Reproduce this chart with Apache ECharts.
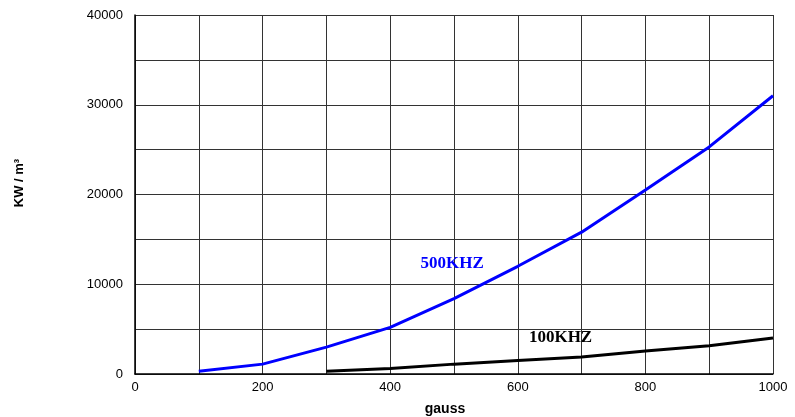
<!DOCTYPE html>
<html>
<head>
<meta charset="utf-8">
<script src="https://cdn.jsdelivr.net/npm/echarts@6/dist/echarts.min.js"></script>
<style>html,body{margin:0;padding:0;background:#fff;}#c{width:795px;height:417px;}</style>
</head>
<body>
<div id="c"></div>
<script>
var gauss500 = [100, 200, 300, 400, 500, 600, 700, 800, 900, 1000];
var kw500 = [300, 1100, 3000, 5200, 8400, 12000, 15800, 20500, 25300, 31000];
var gauss100 = [300, 400, 500, 600, 700, 800, 900, 1000];
var kw100 = [300, 600, 1100, 1500, 1900, 2550, 3150, 4000];
var seriesNames = ['500KHZ', '100KHZ'];
var labelPos500 = [497, 12300];
var labelPos100 = [667, 4000];

function zip(xs, ys) { return xs.map(function (x, i) { return [x, ys[i]]; }); }

var chart = echarts.init(document.getElementById('c'));
chart.setOption({
  animation: false,
  backgroundColor: '#fff',
  grid: { left: 135, right: 22, top: 15, bottom: 43, containLabel: false, outerBoundsMode: 'none' },
  xAxis: {
    type: 'value', min: 0, max: 1000, interval: 100,
    name: 'gauss', nameLocation: 'middle', nameGap: 28,
    nameTextStyle: { fontFamily: 'Liberation Sans', fontWeight: 'bold', fontSize: 14, color: '#000', padding: [0, 18, 0, 0] },
    axisLine: { show: true, lineStyle: { color: '#000', width: 1.5 } },
    axisTick: { show: false },
    axisLabel: { margin: 7, fontFamily: 'Liberation Sans', fontSize: 13, color: '#000',
      formatter: function (v) { return v % 200 === 0 ? String(v) : ''; } },
    splitLine: { show: true, lineStyle: { color: '#333', width: 1 } }
  },
  yAxis: {
    type: 'value', min: 0, max: 40000, interval: 5000,
    name: 'KW / m³', nameLocation: 'middle', nameGap: 109, nameRotate: 90,
    nameTextStyle: { fontFamily: 'Liberation Sans', fontWeight: 'bold', fontSize: 13, color: '#000', padding: [0, 0, 0, 23] },
    axisLine: { show: true, lineStyle: { color: '#000', width: 1.5 } },
    axisTick: { show: false },
    axisLabel: { margin: 12, fontFamily: 'Liberation Sans', fontSize: 13, color: '#000',
      formatter: function (v) { return v % 10000 === 0 ? String(v) : ''; } },
    splitLine: { show: true, lineStyle: { color: '#333', width: 1 } }
  },
  series: [
    {
      name: seriesNames[0], type: 'line', data: zip(gauss500, kw500),
      symbol: 'none', lineStyle: { color: '#0000ff', width: 3 }, itemStyle: { color: '#0000ff' },
      markPoint: {
        symbol: 'circle', symbolSize: 0, itemStyle: { color: 'transparent' },
        label: { show: true, position: 'inside', formatter: seriesNames[0], fontFamily: 'Liberation Serif', fontWeight: 'bold', fontSize: 17, color: '#0000ff' },
        data: [{ coord: labelPos500 }]
      }
    },
    {
      name: seriesNames[1], type: 'line', data: zip(gauss100, kw100),
      symbol: 'none', lineStyle: { color: '#000', width: 3 }, itemStyle: { color: '#000' },
      markPoint: {
        symbol: 'circle', symbolSize: 0, itemStyle: { color: 'transparent' },
        label: { show: true, position: 'inside', formatter: seriesNames[1], fontFamily: 'Liberation Serif', fontWeight: 'bold', fontSize: 17, color: '#000' },
        data: [{ coord: labelPos100 }]
      }
    }
  ]
});
</script>
</body>
</html>
